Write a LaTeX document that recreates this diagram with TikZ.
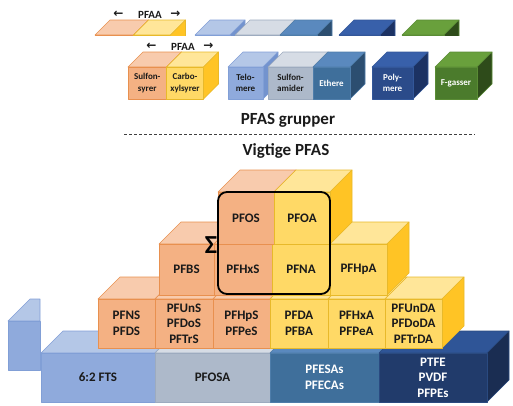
\documentclass[tikz,border=0pt]{standalone}
\usepackage{fontspec}
\setmainfont{Carlito}
\newfontfamily\dvfont{DejaVu Sans}
% colour sets: F front, T top, S side, E edge
\definecolor{orF}{HTML}{F4B183}\definecolor{orT}{HTML}{F8CBAD}\definecolor{orS}{HTML}{EE9A63}\definecolor{orE}{HTML}{E8904F}
\definecolor{yeF}{HTML}{FFD966}\definecolor{yeT}{HTML}{FFE699}\definecolor{yeS}{HTML}{FFC425}\definecolor{yeE}{HTML}{E8B92A}
\definecolor{lbF}{HTML}{8FAADC}\definecolor{lbT}{HTML}{B4C7E7}\definecolor{lbS}{HTML}{7393CE}\definecolor{lbE}{HTML}{819FD6}
\definecolor{grF}{HTML}{ADB9CA}\definecolor{grT}{HTML}{D6DCE5}\definecolor{grS}{HTML}{8FA0B8}\definecolor{grE}{HTML}{9DABBF}
\definecolor{mbF}{HTML}{3F6F9B}\definecolor{mbT}{HTML}{5A89BE}\definecolor{mbS}{HTML}{2C4E70}\definecolor{mbE}{HTML}{4E7DAA}
\definecolor{nvF}{HTML}{213B6B}\definecolor{nvT}{HTML}{2F5597}\definecolor{nvS}{HTML}{1A2D52}\definecolor{nvE}{HTML}{2A4A80}
\definecolor{pbF}{HTML}{2B4B8A}\definecolor{pbT}{HTML}{3860AA}\definecolor{pbS}{HTML}{1C3263}\definecolor{pbE}{HTML}{335799}
\definecolor{fgF}{HTML}{4B7B2C}\definecolor{fgT}{HTML}{69A03C}\definecolor{fgS}{HTML}{2E4B1A}\definecolor{fgE}{HTML}{5A8C35}
\definecolor{txt}{HTML}{1A1A1A}
\newif\ifshowlab \showlabtrue
% #1 name #2 x #3 y #4 w #5 h #6 depth #7 colour set #8 text colour #9 label
\newcommand\cubebox[9]{%
  \filldraw[fill=#7T, draw=#7E, facestyle] (#2,#3) -- ++(#6,-#6) -- ++(#4,0) -- ++(-#6,#6) -- cycle;
  \filldraw[fill=#7S, draw=#7E, facestyle] ({#2+#4},#3) -- ++(#6,-#6) -- ++(0,#5) -- ++(-#6,#6) -- cycle;
  \filldraw[fill=#7F, draw=#7E, facestyle] (#2,#3) rectangle ++(#4,#5);
  \ifshowlab\node[lab, text=#8] (#1) at ({#2+0.5*#4},{#3+0.5*#5}) {#9};\fi%
}
\newcommand\legendrow[1]{%
  \cubebox{#1sulf}{128}{67}{38.5}{32}{15}{or}{txt}{Sulfon-\\syrer}
  \cubebox{#1carb}{166.5}{67}{37}{32}{15}{ye}{txt}{Carbo-\\xylsyrer}
  \cubebox{#1telo}{228}{67}{35}{32}{15}{lb}{txt}{Telo-\\mere}
  \cubebox{#1sam}{268}{67}{45}{32}{15}{gr}{txt}{Sulfon-\\amider}
  \cubebox{#1eth}{313}{67}{37}{32}{15}{mb}{white}{Ethere}
  \cubebox{#1poly}{372}{67}{41}{32}{15}{pb}{white}{Poly-\\mere}
  \cubebox{#1fgas}{435}{67}{42}{32}{15}{fg}{white}{F-gasser}
  \node[pfaa] (#1pfaa) at (183,47) {PFAA};
  \node[arr] (#1la) at (151.5,46.5) {←};
  \node[arr] (#1ra) at (208.5,46.5) {→};
}
\begin{document}
\begin{tikzpicture}[x=1pt,y=-1pt,
  facestyle/.style={line width=0.6pt, line join=round},
  lab/.style={align=center, inner sep=0pt, font=\fontsize{13}{15.5}\selectfont\bfseries},
  pfaa/.style={text=txt, inner sep=0pt, font=\fontsize{11}{13}\selectfont\bfseries},
  arr/.style={text=txt, inner sep=0pt, font=\dvfont\bfseries\fontsize{12}{13}\selectfont},
  title/.style={text=txt, inner sep=0pt, font=\fontsize{17}{20}\selectfont\bfseries}]
\useasboundingbox (0,0) rectangle (513,405);
% ---------- legend ----------
\begin{scope}[lab/.style={align=center, inner sep=0pt, font=\fontsize{9}{11.5}\selectfont\bfseries}]
  \legendrow{l}
\end{scope}
\begin{scope}[shift={(-33,-32)}]
  \showlabfalse
  \clip (-50,-50) rectangle (600,67);
  \legendrow{s}
\end{scope}
% ---------- titles ----------
\node[title] (grp) at (288,120) {PFAS grupper};
\coordinate (dl) at (124,134);
\coordinate (dr) at (475,134);
\draw[line width=1pt, draw=black!75, dash pattern=on 3pt off 2pt] (dl) -- (dr);
\node[title] (vig) at (286,151) {Vigtige PFAS};
% ---------- small left block ----------
\filldraw[fill=lbT, draw=lbE, facestyle] (8,321) -- (30,299) -- (40,299) -- (40,321) -- cycle;
\filldraw[fill=lbF, draw=lbE, facestyle] (8,321) rectangle (40,370);
% ---------- bottom row ----------
\cubebox{fts}{41}{353}{114}{49}{22}{lb}{txt}{6:2 FTS}
\cubebox{pfosa}{155}{353}{115}{49}{22}{gr}{txt}{PFOSA}
\cubebox{pfesa}{270}{353}{109}{49}{22}{mb}{white}{PFESAs\\PFECAs}
\cubebox{ptfe}{379}{353}{108}{49}{22}{nv}{white}{PTFE\\PVDF\\PFPEs}
% ---------- row 2 ----------
\cubebox{pfns}{98}{299}{57}{49}{22}{or}{txt}{PFNS\\PFDS}
\cubebox{pfuns}{155}{299}{58}{49}{22}{or}{txt}{PFUnS\\PFDoS\\PFTrS}
\cubebox{pfhps}{213}{299}{57}{49}{22}{or}{txt}{PFHpS\\PFPeS}
\cubebox{pfda}{270}{299}{58}{49}{22}{ye}{txt}{PFDA\\PFBA}
\cubebox{pfhxa}{328}{299}{57}{49}{22}{ye}{txt}{PFHxA\\PFPeA}
\cubebox{pfunda}{385}{299}{57}{49}{22}{ye}{txt}{PFUnDA\\PFDoDA\\PFTrDA}
% ---------- row 3 ----------
\cubebox{pfbs}{159}{244}{55}{51}{22}{or}{txt}{PFBS}
\cubebox{pfhxs}{214}{244}{58}{51}{22}{or}{txt}{PFHxS}
\cubebox{pfna}{272}{244}{58}{51}{22}{ye}{txt}{PFNA}
\cubebox{pfhpa}{330}{244}{57}{51}{22}{ye}{txt}{PFHpA}
% ---------- row 4 ----------
\cubebox{pfos}{218}{192}{56}{52}{22}{or}{txt}{PFOS}
\cubebox{pfoa}{274}{192}{56}{52}{22}{ye}{txt}{PFOA}
% ---------- sum box ----------
\node[draw=black, line width=1.8pt, rounded corners=9pt, minimum width=112pt, minimum height=102pt, inner sep=0pt] (sumbox) at (274,243) {};
\node[text=black, inner sep=0pt, font=\fontsize{26}{26}\selectfont\bfseries] (sigma) at (211,245) {Σ};
\end{tikzpicture}
\end{document}
